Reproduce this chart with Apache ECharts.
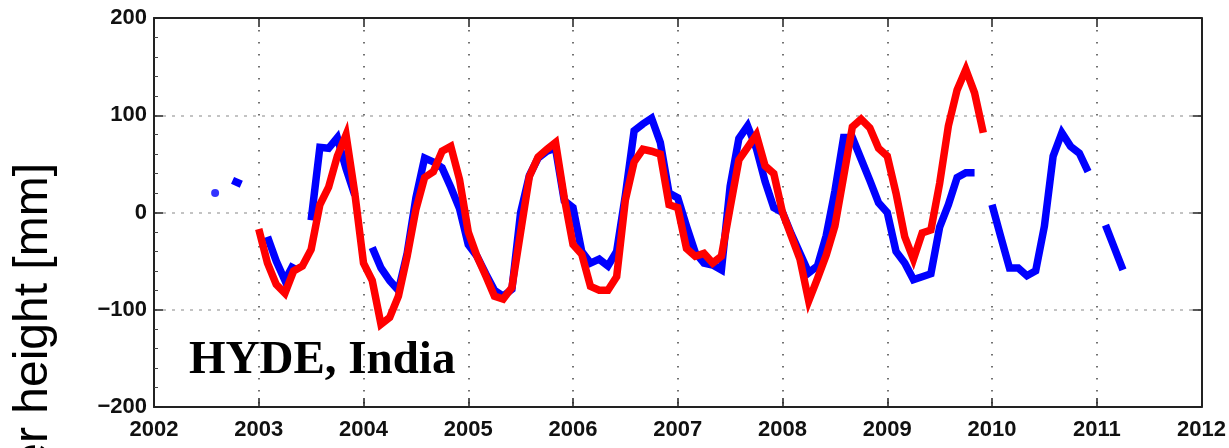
<!DOCTYPE html>
<html lang="en" style="height: 100%">
<head>
  <meta charset="utf-8">
  <script src="https://cdn.jsdelivr.net/npm/echarts/dist/echarts.min.js"></script>
</head>
<body style="height: 100%; margin: 0; background: #fff">
  <div id="container" style="width: 1229px; height: 448px"></div>

  <script type="text/javascript">
    // monthly water height [mm], null = no data
    var blueStart = [2002, 8];
    var blueValues = [
      20, null, 33, 29, null,
      null, -25, -50, -70, -53, null, -8, 67, 66, 77, 45, 18,
      null, -36, -57, -70, -80, -42, 15, 56, 52, 46, 26, 4,
      -33, -45, -63, -80, -86, -79, 0, 38, 56, 63, 66, 12,
      5, -40, -52, -48, -55, -40, 18, 84, 91, 97, 72, 20,
      15, -14, -41, -52, -54, -59, 27, 76, 89, 66, 32, 5,
      0, -22, -42, -62, -55, -24, 22, 77, 77, 55, 33, 10,
      0, -40, -52, -69, -66, -63, -15, 8, 36, 41, 41, null,
      8, -25, -57, -57, -65, -60, -14, 58, 82, 68, 61, 42,
      null, -13, -36, -59
    ];
    var redStart = [2003, 1];
    var redValues = [
      -17, -52, -74, -83, -60, -55, -38, 8, 26, 58, 80, 20,
      -52, -70, -115, -108, -86, -45, 3, 36, 42, 63, 68, 34,
      -20, -45, -65, -86, -89, -77, -20, 37, 57, 65, 72, 15,
      -33, -43, -76, -80, -80, -66, 13, 52, 65, 63, 60, 8,
      5, -37, -45, -42, -52, -45, 5, 54, 67, 80, 48, 40,
      0, -24, -48, -91, -68, -44, -14, 37, 88, 96, 87, 66,
      58, 20, -25, -48, -21, -18, 30, 89, 126, 147, 123, 82
    ];
    var xMin = 2002, xMax = 2012;
    var yMin = -200, yMax = 200, yStep = 100;

    function toPairs(start, values) {
      return values.map(function (v, i) {
        var t = start[0] + (start[1] - 1 + i) / 12;
        return [t, v];
      });
    }
    // points with no neighbours would not show on a line
    function isolated(pairs) {
      return pairs.filter(function (p, i) {
        var prev = i > 0 ? pairs[i - 1][1] : null;
        var next = i < pairs.length - 1 ? pairs[i + 1][1] : null;
        return p[1] != null && prev == null && next == null;
      });
    }

    var blueData = toPairs(blueStart, blueValues);
    var redData = toPairs(redStart, redValues);

    var dom = document.getElementById('container');
    var myChart = echarts.init(dom, null, { renderer: 'canvas' });

    var tickFont = {
      color: '#111',
      fontFamily: 'Liberation Sans',
      fontWeight: 'bold',
      fontSize: 22
    };
    var axisLine = { show: true, onZero: false, lineStyle: { color: '#222', width: 2 } };
    var tick = { inside: true, length: 9, lineStyle: { color: '#222', width: 1.5 } };

    var option = {
      animation: false,
      backgroundColor: '#fff',
      grid: { left: 154, right: 22, top: 18, bottom: 41, containLabel: false },
      xAxis: [
        {
          type: 'value', min: xMin, max: xMax, interval: 1,
          axisLine: axisLine,
          axisTick: tick,
          axisLabel: Object.assign({ margin: 12, formatter: function (v) { return String(v); } }, tickFont),
          splitLine: { show: true, lineStyle: { color: '#444', width: 1.5, type: [1.5, 10.5] } }
        },
        {
          type: 'value', position: 'top', min: xMin, max: xMax, interval: 1,
          axisLine: axisLine,
          axisTick: tick,
          axisLabel: { show: false },
          splitLine: { show: false }
        }
      ],
      yAxis: [
        {
          type: 'value', min: yMin, max: yMax, interval: yStep,
          axisLine: axisLine,
          axisTick: tick,
          minorTick: { show: true, splitNumber: 5, length: 4, lineStyle: { color: '#444' } },
          axisLabel: Object.assign({ margin: 7, formatter: function (v) { return String(v).replace('-', '\u2212'); } }, tickFont),
          splitLine: { show: true, lineStyle: { color: '#b0b0b0', width: 1.5, type: [3, 6] } }
        },
        {
          type: 'value', position: 'right', min: yMin, max: yMax, interval: yStep,
          axisLine: axisLine,
          axisTick: tick,
          axisLabel: { show: false },
          splitLine: { show: false }
        }
      ],
      series: [
        {
          name: 'blue', type: 'line', data: blueData,
          showSymbol: false, connectNulls: false,
          lineStyle: { color: '#0000ff', width: 7.5, join: 'miter' },
          itemStyle: { color: '#0000ff' }
        },
        {
          name: 'blue points', type: 'scatter', data: isolated(blueData),
          symbol: 'circle', symbolSize: 8,
          itemStyle: { color: '#0000ff' }
        },
        {
          name: 'red', type: 'line', data: redData,
          showSymbol: false,
          lineStyle: { color: '#ff0000', width: 7.5, join: 'miter' },
          itemStyle: { color: '#ff0000' }
        }
      ],
      graphic: [
        {
          type: 'text', left: 189, top: 337, z: 10,
          style: {
            text: 'HYDE, India',
            fill: '#000',
            font: 'bold 47px "Liberation Serif", serif'
          }
        },
        {
          type: 'text', x: 58, y: 163, rotation: Math.PI / 2, z: 10,
          style: {
            text: 'Water height [mm]',
            fill: '#000',
            font: '48px "Liberation Sans", sans-serif',
            align: 'right',
            verticalAlign: 'bottom'
          }
        }
      ]
    };

    myChart.setOption(option);
    window.addEventListener('resize', myChart.resize);
  </script>
</body>
</html>
